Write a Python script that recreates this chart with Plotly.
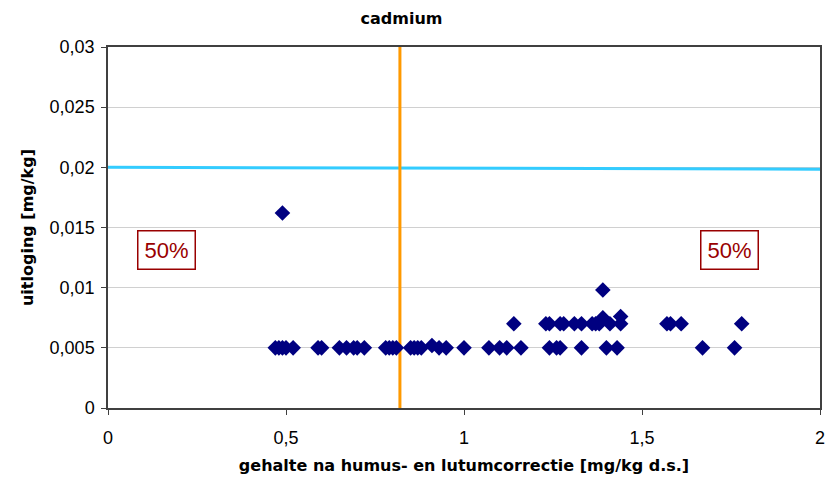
import plotly.graph_objects as go

# data points (gehalte, uitloging)
x_low = [0.47, 0.48, 0.49, 0.50, 0.52, 0.59, 0.60, 0.65, 0.67, 0.69, 0.70, 0.72,
         0.78, 0.79, 0.80, 0.81, 0.85, 0.86, 0.87, 0.88, 0.93, 0.95, 1.00, 1.07,
         1.10, 1.12, 1.16, 1.24, 1.26, 1.27, 1.33, 1.40, 1.43, 1.67, 1.76]
y_low = [0.005] * len(x_low)
x_mid = [1.14, 1.23, 1.24, 1.27, 1.28, 1.31, 1.33, 1.36, 1.37, 1.38, 1.41, 1.44,
         1.57, 1.58, 1.61, 1.78]
y_mid = [0.007] * len(x_mid)
x_other = [0.91, 1.39, 1.44, 1.39, 0.49]
y_other = [0.0052, 0.0075, 0.0076, 0.0098, 0.0162]

xs = x_low + x_mid + x_other
ys = y_low + y_mid + y_other

norm_x = [0, 2]
norm_y = [0.02, 0.01985]
grens_x = [0.82, 0.82]
grens_y = [0, 0.03]

x_ticks = [0, 0.5, 1, 1.5, 2]
x_labels = ["0", "0,5", "1", "1,5", "2"]
y_ticks = [0, 0.005, 0.01, 0.015, 0.02, 0.025, 0.03]
y_labels = ["0", "0,005", "0,01", "0,015", "0,02", "0,025", "0,03"]

fig = go.Figure()
fig.add_trace(go.Scatter(x=norm_x, y=norm_y, mode="lines",
                         line=dict(color="#33CCFF", width=3), showlegend=False, hoverinfo="skip"))
fig.add_trace(go.Scatter(x=grens_x, y=grens_y, mode="lines",
                         line=dict(color="#FF9900", width=3), showlegend=False, hoverinfo="skip"))
fig.add_trace(go.Scatter(x=xs, y=ys, mode="markers",
                         marker=dict(symbol="diamond", color="#000080", size=12,
                                     line=dict(width=0)),
                         showlegend=False))

box = dict(font=dict(family="Liberation Sans, Arial", size=22, color="#990000"),
           bordercolor="#990000", borderwidth=1.5, borderpad=6, bgcolor="white",
           showarrow=False, xref="paper", yref="paper",
           xanchor="center", yanchor="middle")
fig.add_annotation(text="50%", x=(166 - 108) / 712, y=(408 - 250) / 361, **box)
fig.add_annotation(text="50%", x=(729 - 108) / 712, y=(408 - 250) / 361, **box)

title_font = dict(family="DejaVu Sans, Arial", size=16, color="black")

fig.update_layout(
    width=831, height=494,
    margin=dict(l=108, r=11, t=47, b=86),
    paper_bgcolor="white", plot_bgcolor="white",
    separators=",.",
    font=dict(family="Liberation Sans, Arial", size=18, color="black"),
    title=dict(text="<b>cadmium</b>", x=(362 + 441) / 2 / 831, xanchor="center",
               y=1 - 18 / 494, yanchor="middle", font=title_font),
)
fig.update_xaxes(range=[0, 2], tickvals=x_ticks, ticktext=x_labels, automargin=False,
                 showgrid=False, zeroline=False,
                 showline=True, linecolor="#404040", linewidth=1.5, mirror=True,
                 ticks="outside", ticklen=5, tickcolor="#404040", ticklabelstandoff=8,
                 title=dict(text="<b>gehalte na humus- en lutumcorrectie [mg/kg d.s.]</b>",
                            font=title_font, standoff=12))
fig.update_yaxes(range=[0, 0.03], tickvals=y_ticks, ticktext=y_labels, automargin=False,
                 showgrid=True, gridcolor="#D0D0D0", gridwidth=1, zeroline=False,
                 showline=True, linecolor="#404040", linewidth=1.5, mirror=True,
                 ticks="outside", ticklen=5, tickcolor="#404040", ticklabelstandoff=3,
                 title=dict(text="<b>uitloging [mg/kg]</b>", font=title_font, standoff=12))

fig.write_html("out.html")
